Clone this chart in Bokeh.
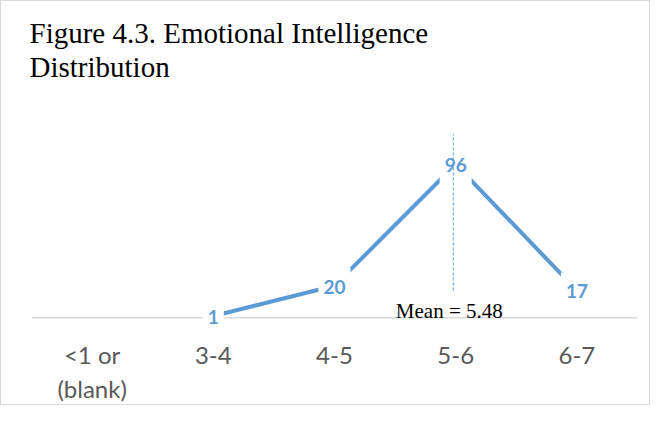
import math
from bokeh.plotting import figure
from bokeh.models import Range1d, FixedTicker, Span, Title, ColumnDataSource
from bokeh.core.properties import value
from bokeh.embed import file_html
from bokeh.resources import INLINE

# ---- data ----
categories = ["<1 or\n(blank)", "3-4", "4-5", "5-6", "6-7"]
cat_centers = [2.5, 3.5, 4.5, 5.5, 6.5]
counts = [float("nan"), 1, 20, 96, 17]
mean_value = 5.48
mean_text = "Mean = 5.48"
title_lines = ["Figure 4.3. Emotional Intelligence", "Distribution"]

BLUE = "#5B9BD5"
GRAY_TEXT = "#595959"
AXIS_GRAY = "#D9D9D9"

p = figure(width=650, height=405, output_backend="svg", toolbar_location=None,
           x_range=Range1d(2, 7), y_range=Range1d(-9.3, 123.4),
           min_border_left=30, min_border_right=14,
           min_border_top=119, min_border_bottom=71, title=None)
p.yaxis.visible = False
p.grid.visible = False
p.outline_line_color = None
p.background_fill_color = "white"
p.border_fill_color = "white"
p.styles = {"border": "1px solid #D9D9D9"}

# baseline (category axis line), drawn beneath the labels
p.add_layout(Span(location=0, dimension="width", line_color=AXIS_GRAY,
                  line_width=1.5, level="underlay"))

# x axis
ax = p.xaxis[0]
ax.ticker = FixedTicker(ticks=cat_centers)
ax.major_label_overrides = {c: lab for c, lab in zip(cat_centers, categories)}
ax.axis_line_color = None
ax.major_tick_line_color = None
ax.minor_tick_line_color = None
ax.major_label_standoff = 1
ax.major_label_text_font = "Lato"
ax.major_label_text_font_size = "24px"
ax.major_label_text_color = GRAY_TEXT

# series line
p.line(cat_centers, counts, line_width=4, line_color=BLUE)

# data labels
lx = [c for c, v in zip(cat_centers, counts) if not math.isnan(v)]
ly = [v for v in counts if not math.isnan(v)]
lt = [str(int(v)) for v in ly]
src = ColumnDataSource(dict(x=lx, y=ly, t=lt))
p.text(x="x", y="y", text="t", source=src, text_align="center",
       text_baseline="middle", y_offset=1, text_font=value("Lato"),
       text_font_style="bold", text_font_size="19px", text_color=BLUE,
       background_fill_color="white", padding=(5, 12))

# mean marker
p.segment(x0=[mean_value], y0=[17], x1=[mean_value], y1=[115],
          line_color=BLUE, line_width=1, line_dash="3 2")
p.text(x=[mean_value], y=[0], text=[mean_text], text_align="center",
       text_baseline="alphabetic", x_offset=-4, y_offset=-7,
       text_font=value("Liberation Serif"), text_font_size="21px",
       text_color="black")

# spacer between plot area and the title block
p.add_layout(Title(text=" ", text_font_size="1px", standoff=35), "above")
# title (two lines)
for line in reversed(title_lines):
    p.add_layout(Title(text=line, text_font="Liberation Serif",
                       text_font_size="29px", text_font_style="normal",
                       text_color="black", align="left", offset=-2,
                       standoff=0), "above")

open("out.html", "w").write(file_html(p, INLINE))
